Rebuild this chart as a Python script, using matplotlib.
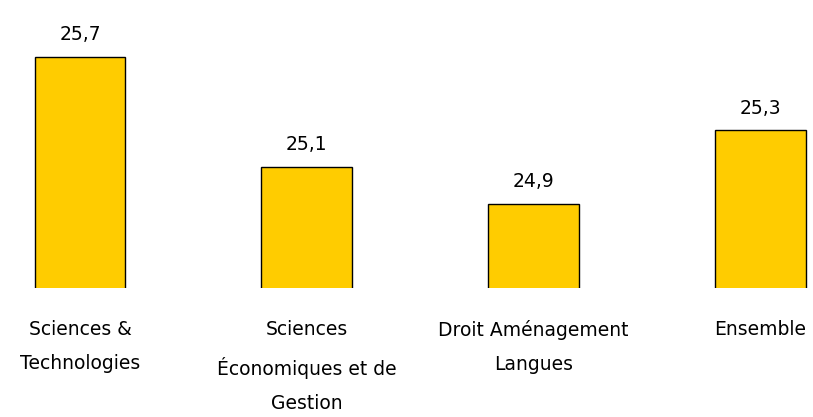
import matplotlib
matplotlib.use("Agg")
import matplotlib.pyplot as plt

# data
categories = ["Sciences &\nTechnologies",
              "Sciences\nÉconomiques et de\nGestion",
              "Droit Aménagement\nLangues",
              "Ensemble"]
values = [25.7, 25.1, 24.9, 25.3]

plt.rcParams['font.family'] = ['DejaVu Sans']

fig = plt.figure(figsize=(8.13, 4.17), dpi=100)
ax = fig.add_axes([0, 129/417, 1, 288/417])

x = range(len(values))
bars = ax.bar(x, values, width=0.4, color="#FFCC00", edgecolor="black", linewidth=1)

for xi, v in zip(x, values):
    ax.annotate(f"{v:.1f}".replace(".", ","), (xi, v), xytext=(0, 9),
                textcoords="offset points", ha="center", va="bottom", fontsize=13.5)

ax.set_xlim(-0.353, 3.233)
ax.set_ylim(24.44, 26.01)
ax.set_xticks(list(x))
ax.set_xticklabels(categories, fontsize=13.5, linespacing=2.0)
ax.tick_params(axis="x", length=0, pad=23)
ax.set_yticks([])
for s in ax.spines.values():
    s.set_visible(False)

fig.savefig("out.png", dpi=100)
